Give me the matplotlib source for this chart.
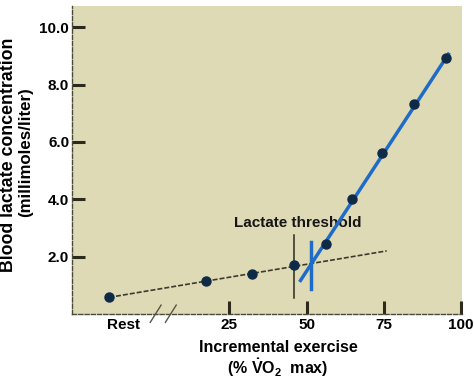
import matplotlib
matplotlib.use("Agg")
import matplotlib.pyplot as plt

plt.rcParams['font.family'] = ['Liberation Sans', 'DejaVu Sans']
plt.rcParams['font.weight'] = 'bold'
plt.rcParams['mathtext.fontset'] = 'custom'
plt.rcParams['mathtext.rm'] = 'Liberation Sans:bold'
plt.rcParams['mathtext.it'] = 'Liberation Sans:bold'
plt.rcParams['mathtext.bf'] = 'Liberation Sans:bold'

# Data (x in % VO2 max; rest placed left of zero)
exercise = [-14, 17.5, 32.3, 46.0, 56.2, 64.8, 74.4, 84.9, 95.1]
lactate = [0.58, 1.16, 1.38, 1.70, 2.43, 4.01, 5.63, 7.32, 8.92]

# Baseline (dashed) fit line endpoints
base_x = [-14, 75.9]
base_y = [0.58, 2.20]
# Steep (blue) fit line endpoints
steep_x = [47.7, 96.2]
steep_y = [1.12, 9.11]
# Threshold markers
black_mark_x = 45.9
black_mark_y = [0.57, 2.76]
blue_mark_x = 51.4
blue_mark_y = [0.87, 2.52]
# Axis break marks
break_x = [1.1, 6.0]

xtick_pos = [-9.4, 25, 50, 75, 100]
xtick_labels = ['Rest', '25', '50', '75', '100']
ytick_pos = [2, 4, 6, 8, 10]
ytick_labels = ['2.0', '4.0', '6.0', '8.0', '10.0']

bg = '#DFDAB6'
dark = '#2B2A1C'
blue = '#1F6CC6'
navy = '#0E2A47'

fig = plt.figure(figsize=(4.74, 3.82), dpi=100)
ax = fig.add_axes([72/474, 68/382, 390/474, 308/382])
ax.set_facecolor(bg)
ax.set_xlim(-26, 100.3)
ax.set_ylim(0, 10.74)

for s in ['top', 'right']:
    ax.spines[s].set_visible(False)
for s in ['left', 'bottom']:
    ax.spines[s].set_linestyle((0, (3, 1.5)))
    ax.spines[s].set_linewidth(1.0)
    ax.spines[s].set_color('#4a4838')

ax.plot(base_x, base_y, linestyle=(0, (3, 1.2)), color='#3d3a2a', lw=1.2, zorder=3)
ax.plot(steep_x, steep_y, color=blue, lw=2.5, zorder=5, solid_capstyle='butt')
ax.plot([black_mark_x, black_mark_x], black_mark_y, color=dark, lw=1.1, zorder=4)
ax.plot([blue_mark_x, blue_mark_x], blue_mark_y, color=blue, lw=2.5, zorder=5)
ax.plot(exercise, lactate, 'o', color=navy, markersize=6.5, zorder=6)

ax.text(26.5, 3.16, 'Lactate threshold', fontsize=11, fontweight='bold',
        ha='left', va='center', color='#151515', zorder=4)

for bx in break_x:
    ax.plot([bx - 1.75, bx + 1.75], [-0.29, 0.31], color='#555548', lw=1.0,
            clip_on=False, zorder=7)

ax.set_xticks(xtick_pos)
ax.set_xticklabels(xtick_labels)
ax.set_yticks(ytick_pos)
ax.set_yticklabels(ytick_labels)
ax.tick_params(axis='both', direction='in', length=9.5, width=2.2, color=dark,
               labelsize=11, pad=3)
ax.tick_params(axis='y', pad=2)
ax.xaxis.get_major_ticks()[0].tick1line.set_visible(False)
for lab in ax.get_xticklabels() + ax.get_yticklabels():
    lab.set_fontweight('bold')

fig.text(278/474, (382-348)/382, 'Incremental exercise', ha='center', va='center',
         fontsize=11.5, fontweight='bold')
fig.text(278/474, (382-368)/382, r'(% $\dot{\mathrm{V}}\mathrm{O}_2$  max)', ha='center',
         va='center', fontsize=11.5, fontweight='bold')
fig.text(9/474, (382-155)/382, 'Blood lactate concentration', rotation=90,
         ha='center', va='center', fontsize=12.8, fontweight='bold')
fig.text(26/474, (382-152)/382, '(millimoles/liter)', rotation=90,
         ha='center', va='center', fontsize=12.2, fontweight='bold')

fig.savefig('out.png', dpi=100, facecolor='white')
